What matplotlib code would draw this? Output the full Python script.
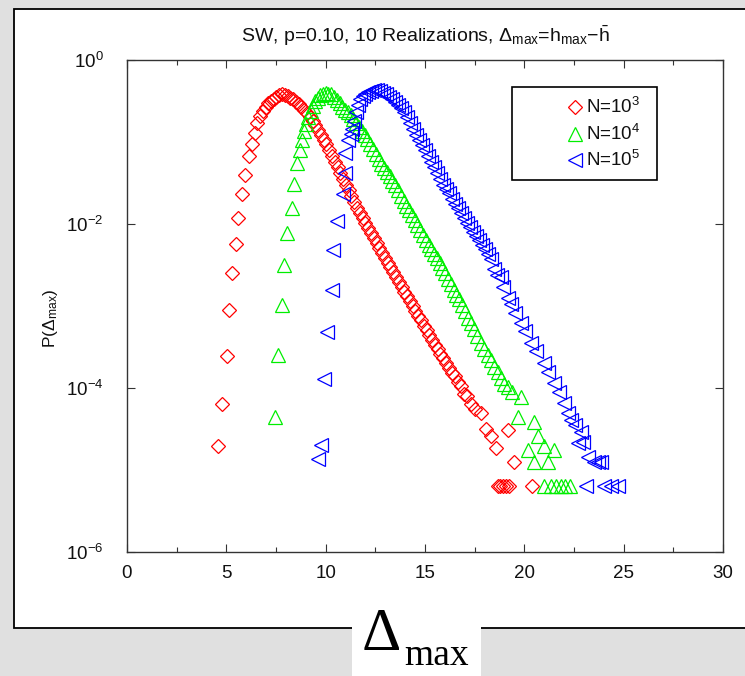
import numpy as np
import matplotlib
matplotlib.use('Agg')
import matplotlib.pyplot as plt
from matplotlib.patches import Rectangle
from matplotlib.ticker import FixedLocator, FuncFormatter, MultipleLocator, NullLocator

plt.rcParams['font.family'] = ['Liberation Sans', 'DejaVu Sans']
plt.rcParams['mathtext.fontset'] = 'custom'
plt.rcParams['mathtext.rm'] = 'Liberation Sans'
plt.rcParams['mathtext.it'] = 'Liberation Sans:italic'
plt.rcParams['mathtext.bf'] = 'Liberation Sans:bold'
plt.rcParams['mathtext.default'] = 'rm'

# ---------------- data (x = Delta_max, log10 of P) ----------------
red_x = [4.60, 4.80, 5.03, 5.15, 5.30, 5.48, 5.60, 5.80, 5.95, 6.13, 6.28, 6.42, 6.56, 6.70,
         6.85, 6.98, 7.10, 7.24, 7.38, 7.52, 7.66, 7.80, 7.94, 8.08, 8.22, 8.36, 8.50, 8.64,
         8.78, 8.92, 9.06, 9.20, 9.34, 9.48, 9.62, 9.76, 9.90, 10.04, 10.18, 10.32, 10.46,
         10.60, 10.74, 10.88, 11.02, 11.16, 11.30, 11.44, 11.58, 11.72, 11.86, 12.00, 12.14,
         12.28, 12.42, 12.56, 12.70, 12.84, 12.98, 13.12, 13.26, 13.40, 13.54, 13.68, 13.82,
         13.96, 14.10, 14.24, 14.38, 14.52, 14.66, 14.80, 14.94, 15.08, 15.22, 15.36, 15.50,
         15.64, 15.78, 15.92, 16.06, 16.20, 16.34, 16.50, 16.64, 16.80, 16.95, 17.10, 17.30,
         17.50, 17.80, 18.05, 18.30, 18.56, 19.20, 19.47, 18.65, 18.80, 18.95, 19.10, 19.25,
         20.40]
red_logp = [-4.71, -4.19, -3.61, -3.05, -2.60, -2.24, -1.93, -1.63, -1.40, -1.17, -1.02, -0.89,
            -0.77, -0.68, -0.62, -0.57, -0.53, -0.50, -0.47, -0.45, -0.43, -0.42, -0.43, -0.44,
            -0.46, -0.48, -0.51, -0.54, -0.57, -0.61, -0.65, -0.69, -0.74, -0.79, -0.85, -0.91,
            -0.97, -1.03, -1.10, -1.17, -1.24, -1.31, -1.38, -1.45, -1.52, -1.59, -1.66, -1.73,
            -1.80, -1.86, -1.93, -1.99, -2.05, -2.11, -2.17, -2.23, -2.29, -2.35, -2.41, -2.47,
            -2.53, -2.59, -2.65, -2.71, -2.77, -2.83, -2.88, -2.94, -3.00, -3.06, -3.12, -3.17,
            -3.24, -3.29, -3.35, -3.41, -3.47, -3.52, -3.58, -3.64, -3.70, -3.76, -3.82, -3.85,
            -3.93, -3.97, -4.07, -4.10, -4.20, -4.26, -4.30, -4.50, -4.59, -4.73, -4.51, -4.90,
            -5.20, -5.20, -5.20, -5.20, -5.20, -5.20]

green_x = [7.46, 7.61, 7.82, 7.92, 8.07, 8.30, 8.42, 8.57, 8.70, 8.80, 8.90, 9.00, 9.12, 9.24,
           9.36, 9.48, 9.60, 9.73, 9.86, 10.00, 10.14, 10.28, 10.42, 10.56, 10.70, 10.84, 10.98,
           11.12, 11.26, 11.40, 11.54, 11.68, 11.82, 11.96, 12.10, 12.24, 12.38, 12.52, 12.66,
           12.80, 12.94, 13.08, 13.22, 13.36, 13.50, 13.64, 13.78, 13.92, 14.06, 14.20, 14.34,
           14.48, 14.62, 14.76, 14.90, 15.04, 15.18, 15.32, 15.46, 15.60, 15.74, 15.88, 16.02,
           16.16, 16.30, 16.44, 16.58, 16.72, 16.86, 17.00, 17.15, 17.30, 17.45, 17.60, 17.80,
           17.95, 18.15, 18.30, 18.46, 18.65, 18.85, 19.00, 19.16, 19.40, 19.82, 19.67, 20.47,
           20.68, 20.98, 20.17, 21.48, 20.47, 21.20, 20.98, 21.35, 21.60, 21.85, 22.05, 22.30]
green_logp = [-4.35, -3.60, -2.99, -2.50, -2.11, -1.80, -1.51, -1.25, -1.10, -0.97, -0.87, -0.78,
              -0.70, -0.62, -0.56, -0.50, -0.46, -0.43, -0.41, -0.40, -0.41, -0.42, -0.45, -0.49,
              -0.53, -0.57, -0.61, -0.64, -0.67, -0.72, -0.77, -0.82, -0.86, -0.91, -0.96, -1.02,
              -1.09, -1.15, -1.21, -1.27, -1.32, -1.37, -1.42, -1.47, -1.52, -1.58, -1.66, -1.72,
              -1.78, -1.83, -1.89, -1.95, -2.01, -2.07, -2.13, -2.19, -2.25, -2.31, -2.37, -2.42,
              -2.48, -2.54, -2.60, -2.67, -2.73, -2.80, -2.86, -2.92, -2.99, -3.06, -3.15, -3.21,
              -3.28, -3.37, -3.45, -3.52, -3.60, -3.66, -3.74, -3.80, -3.88, -3.95, -3.99, -4.05,
              -4.11, -4.35, -4.42, -4.59, -4.71, -4.75, -4.75, -4.90, -4.90, -5.20, -5.20, -5.20,
              -5.20, -5.20, -5.20]

blue_x = [9.63, 9.78, 9.93, 10.09, 10.34, 10.39, 10.59, 10.89, 10.95, 10.99, 11.14, 11.25, 11.35,
          11.45, 11.55, 11.65, 11.75, 11.88, 12.00, 12.15, 12.30, 12.45, 12.60, 12.75, 12.90,
          13.05, 13.20, 13.35, 13.50, 13.65, 13.80, 13.95, 14.10, 14.25, 14.40, 14.55, 14.70,
          14.85, 15.00, 15.15, 15.30, 15.45, 15.60, 15.75, 15.90, 16.05, 16.20, 16.35, 16.50,
          16.65, 16.80, 16.95, 17.10, 17.25, 17.40, 17.55, 17.70, 17.85, 18.00, 18.15, 18.30,
          18.46, 18.60, 18.81, 18.95, 19.16, 19.35, 19.55, 19.82, 20.05, 20.32, 20.60, 20.98,
          21.20, 21.48, 21.75, 21.99, 22.20, 22.34, 22.55, 22.84, 22.69, 22.95, 23.20, 23.50,
          23.70, 23.85, 23.10, 24.00, 24.35, 24.70]
blue_logp = [-4.87, -4.70, -3.89, -3.32, -2.81, -2.32, -1.96, -1.63, -1.38, -1.13, -0.98, -0.90,
             -0.84, -0.74, -0.64, -0.55, -0.48, -0.44, -0.41, -0.39, -0.38, -0.37, -0.37, -0.38,
             -0.40, -0.42, -0.45, -0.48, -0.51, -0.55, -0.59, -0.64, -0.70, -0.77, -0.84, -0.92,
             -0.98, -1.04, -1.10, -1.17, -1.24, -1.31, -1.38, -1.45, -1.52, -1.57, -1.62, -1.69,
             -1.75, -1.81, -1.87, -1.93, -1.99, -2.04, -2.10, -2.15, -2.20, -2.26, -2.31, -2.36,
             -2.43, -2.55, -2.62, -2.65, -2.77, -2.90, -2.98, -3.08, -3.21, -3.30, -3.45, -3.55,
             -3.69, -3.80, -3.94, -4.05, -4.18, -4.30, -4.39, -4.45, -4.54, -4.67, -4.66, -4.84,
             -4.90, -4.90, -4.90, -5.20, -5.20, -5.20, -5.20]

series_labels = [r'N=10$^3$', r'N=10$^4$', r'N=10$^5$']
xticks_major = [0, 5, 10, 15, 20, 25, 30]
ytick_exps = [0, -2, -4, -6]
title = r'SW, p=0.10, 10 Realizations, $\Delta_{\mathrm{max}}$=h$_{\mathrm{max}}$$-\bar{\mathrm{h}}$'

# ---------------- figure ----------------
W, H = 745, 676
fig = plt.figure(figsize=(W / 100, H / 100), dpi=100, facecolor='#e0e0e0')

def fx(px):
    return px / W

def fy(py):
    return (H - py) / H

# white panel with black frame
fig.add_artist(Rectangle((fx(14), fy(628)), fx(W + 20) - fx(14), fy(9) - fy(628),
                         transform=fig.transFigure, facecolor='white',
                         edgecolor='black', lw=1.3, zorder=-5))

ax = fig.add_axes([fx(127), fy(552), fx(723) - fx(127), fy(60) - fy(552)])
ax.set_facecolor('white')

styles = [dict(marker='D', color='#ff0000', ms=7.3),
          dict(marker='^', color='#00ee00', ms=10.5),
          dict(marker='<', color='#0000ff', ms=10.5)]
data = [(red_x, red_logp), (green_x, green_logp), (blue_x, blue_logp)]

for (xs, lp), st in zip(data, styles):
    ax.plot(xs, 10.0 ** np.asarray(lp), linestyle='none', marker=st['marker'],
            ms=st['ms'], mfc='none', mec=st['color'], mew=0.9, clip_on=False)

ax.set_yscale('log')
ax.set_xlim(0, 30)
ax.set_ylim(1e-6, 1)
ax.xaxis.set_major_locator(FixedLocator(xticks_major))
ax.xaxis.set_minor_locator(MultipleLocator(2.5))
ax.yaxis.set_major_locator(FixedLocator([10.0 ** e for e in ytick_exps]))
ax.yaxis.set_minor_locator(NullLocator())
ax.yaxis.set_major_formatter(FuncFormatter(lambda v, p: r'$10^{%d}$' % round(np.log10(v))))
ax.xaxis.set_major_formatter(FuncFormatter(lambda v, p: '%d' % v))

for sp in ax.spines.values():
    sp.set_linewidth(1.0)
    sp.set_color('#333333')
ax.tick_params(which='both', direction='in', top=True, right=True, color='#333333',
               width=0.8, labelsize=13.5, labelcolor='#111111')
ax.tick_params(which='major', length=5.5)
ax.tick_params(which='minor', length=3.5)
ax.tick_params(axis='y', pad=17)
ax.tick_params(axis='x', pad=9)

ax.set_title(title, fontsize=14, pad=13, color='#111111')
ax.set_ylabel(r'P($\Delta_{\mathrm{max}}$)', fontsize=12.5, color='#111111')
ax.yaxis.set_label_coords((60 - 127) / 596, (552 - 318) / 492)

# legend box (drawn by hand to match the reference layout)
ax.add_patch(Rectangle((0.646, 0.756), 0.889 - 0.646, 0.945 - 0.756, transform=ax.transAxes,
                       facecolor='white', edgecolor='black', lw=1.2, zorder=5))
leg_y = [0.905, 0.850, 0.797]
for st, lab, yy in zip(styles, series_labels, leg_y):
    ax.plot([0.752], [yy], transform=ax.transAxes, linestyle='none', marker=st['marker'],
            ms=st['ms'], mfc='none', mec=st['color'], mew=0.9, zorder=6, clip_on=False)
    ax.text(0.770, yy, lab, transform=ax.transAxes, fontsize=13.5, va='center', ha='left',
            zorder=6, color='#111111')

# big x-axis label in a white box overlapping the frame
fig.add_artist(Rectangle((fx(352), fy(676)), fx(481) - fx(352), fy(612) - fy(676),
                         transform=fig.transFigure, facecolor='white', edgecolor='none',
                         zorder=-4))
fig.text(fx(362), fy(650), '\u0394', fontsize=44, family=['Liberation Serif', 'DejaVu Serif'],
         ha='left', va='baseline', color='black')
fig.text(fx(404), fy(665), 'max', fontsize=27, family=['Liberation Serif', 'DejaVu Serif'],
         ha='left', va='baseline', color='black')

fig.savefig('out.png', dpi=100, facecolor=fig.get_facecolor())
